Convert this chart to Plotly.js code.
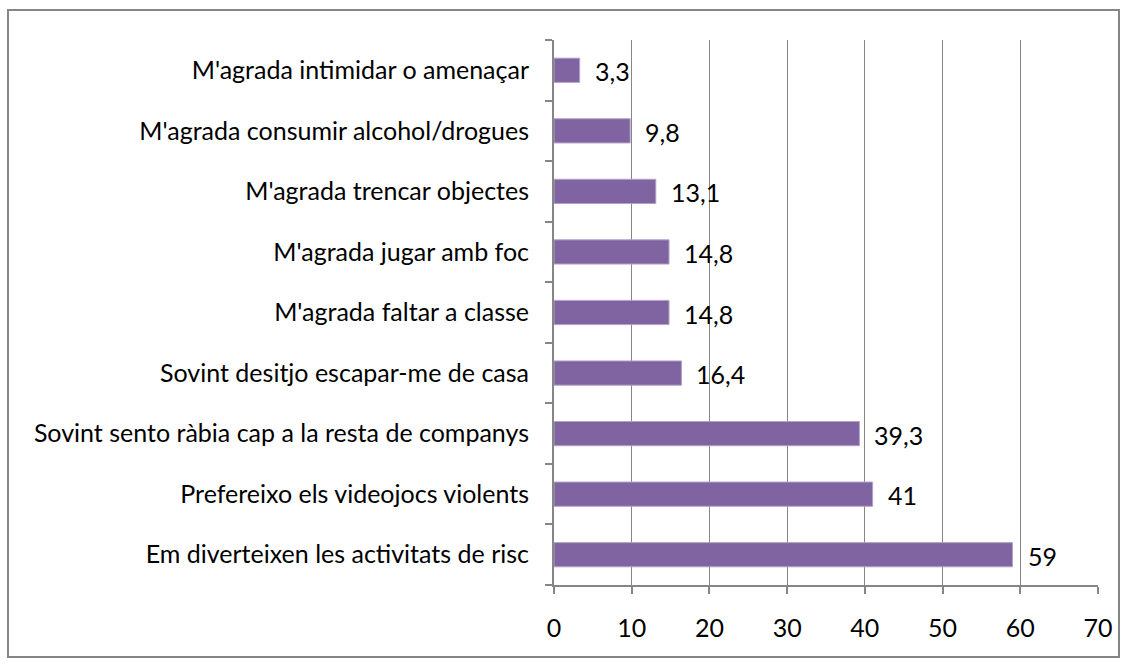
<!DOCTYPE html>
<html>
<head>
<meta charset="utf-8">
<script src="https://cdn.plot.ly/plotly-3.0.1.min.js"></script>
<style>
html,body{margin:0;padding:0;background:#fff;}
#chart{width:1128px;height:665px;}
</style>
</head>
<body>
<div id="chart"></div>
<script>
const categories = [
  "Em diverteixen les activitats de risc",
  "Prefereixo els videojocs violents",
  "Sovint sento ràbia cap a la resta de companys",
  "Sovint desitjo escapar-me de casa",
  "M'agrada faltar a classe",
  "M'agrada jugar amb foc",
  "M'agrada trencar objectes",
  "M'agrada consumir alcohol/drogues",
  "M'agrada intimidar o amenaçar"
];
const values = [59, 41, 39.3, 16.4, 14.8, 14.8, 13.1, 9.8, 3.3];
const xTicks = [0, 10, 20, 30, 40, 50, 60, 70];

const fmt = v => String(v).replace('.', ',');
const FONT = "Lato, 'Open Sans', sans-serif";

const trace = {
  type: 'bar',
  orientation: 'h',
  y: categories,
  x: values,
  width: 0.4,
  marker: {color: '#8064A2', line: {color: '#B3A2C7', width: 1}},
  hoverinfo: 'none'
};

const annotations = values.map((v, i) => ({
  x: v, y: categories[i], xref: 'x', yref: 'y',
  text: fmt(v), showarrow: false, xanchor: 'left', xshift: 13, yshift: -1,
  font: {family: FONT, size: 25, color: '#000'}
}));

const layout = {
  width: 1128, height: 665,
  margin: {l: 554, r: 30, t: 40, b: 80},
  paper_bgcolor: '#fff', plot_bgcolor: '#fff',
  showlegend: false,
  font: {family: FONT, size: 25, color: '#000'},
  xaxis: {
    range: [0, 70], tickvals: xTicks, ticktext: xTicks.map(String),
    showgrid: true, gridcolor: '#868686', gridwidth: 1,
    zeroline: false, showline: true, linecolor: '#868686', linewidth: 2,
    ticks: 'outside', ticklen: 7, tickcolor: '#868686', tickwidth: 2,
    ticklabelstandoff: 13, tickfont: {family: FONT, size: 25, color: '#000'},
    fixedrange: true
  },
  yaxis: {
    type: 'category', categoryorder: 'array', categoryarray: categories,
    range: [-0.5, 8.5],
    showgrid: false, zeroline: false, showline: true, linecolor: '#868686', linewidth: 2,
    ticks: 'outside', tickson: 'boundaries', ticklen: 7, tickcolor: '#868686', tickwidth: 2,
    ticklabelstandoff: 18, tickfont: {family: FONT, size: 25, color: '#000'},
    fixedrange: true
  },
  annotations: annotations,
  shapes: [{
    type: 'rect', xref: 'paper', yref: 'paper',
    x0: (8 - 554) / 544, x1: (1119 - 554) / 544,
    y0: (585 - 657) / 545, y1: (585 - 10) / 545,
    line: {color: '#868686', width: 2}, fillcolor: 'rgba(0,0,0,0)', layer: 'below'
  }]
};

Plotly.newPlot('chart', [trace], layout, {displayModeBar: false, staticPlot: true});
</script>
</body>
</html>
